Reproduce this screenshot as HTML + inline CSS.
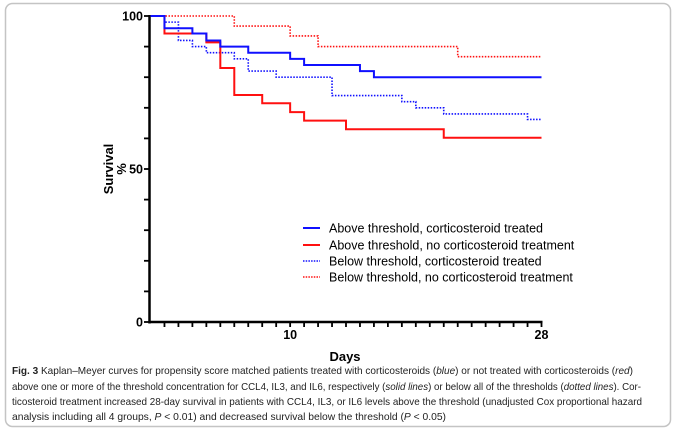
<!DOCTYPE html>
<html><head><meta charset="utf-8"><style>
html,body{margin:0;padding:0;background:#fff;}
svg{display:block;font-family:"Liberation Sans",Arial,sans-serif;}
</style></head><body>
<svg width="675" height="430" viewBox="0 0 675 430">
<rect x="5.5" y="3.5" width="665" height="423" rx="7" fill="#fff" stroke="#c4c4c4" stroke-width="1.5"/>
<g id="axes"></g>
<g id="series"></g>
<g id="legend"></g>
<text transform="translate(113,169) rotate(-90)" text-anchor="middle" font-weight="bold" font-size="13">Survival</text>
<text transform="translate(126,169) rotate(-90)" text-anchor="middle" font-weight="bold" font-size="13">%</text>
<text x="345" y="361" text-anchor="middle" font-weight="bold" font-size="13">Days</text>
<g font-size="10.2" fill="#222">
<text x="12" y="374" textLength="621" lengthAdjust="spacingAndGlyphs"><tspan font-weight="bold">Fig. 3</tspan>  Kaplan–Meyer curves for propensity score matched patients treated with corticosteroids (<tspan font-style="italic">blue</tspan>) or not treated with corticosteroids (<tspan font-style="italic">red</tspan>)</text>
<text x="12" y="390" textLength="629" lengthAdjust="spacingAndGlyphs">above one or more of the threshold concentration for CCL4, IL3, and IL6, respectively (<tspan font-style="italic">solid lines</tspan>) or below all of the thresholds (<tspan font-style="italic">dotted lines</tspan>). Cor-</text>
<text x="12" y="405" textLength="630" lengthAdjust="spacingAndGlyphs">ticosteroid treatment increased 28-day survival in patients with CCL4, IL3, or IL6 levels above the threshold (unadjusted Cox proportional hazard</text>
<text x="12" y="420" textLength="434" lengthAdjust="spacingAndGlyphs">analysis including all 4 groups, <tspan font-style="italic">P</tspan> &lt; 0.01) and decreased survival below the threshold (<tspan font-style="italic">P</tspan> &lt; 0.05)</text>
</g>
</svg>
<script>
const NS="http://www.w3.org/2000/svg";
const yTicks=[0,50,100];
const xTicks=[10,28];
const seriesNames=["Above threshold, corticosteroid treated","Above threshold, no corticosteroid treatment","Below threshold, corticosteroid treated","Below threshold, no corticosteroid treatment"];
const aboveTreatedDays=[0,1,3,4,5,7,10,11,15,16,28];
const aboveTreatedSurv=[100,96,94.3,92,90,88,86,84,82,80,80];
const aboveUntreatedDays=[0,1,4,5,6,8,10,11,14,21,28];
const aboveUntreatedSurv=[100,94.3,91.4,83,74.2,71.5,68.6,65.8,63,60.2,60.2];
const belowTreatedDays=[0,1,2,3,4,6,7,9,13,18,19,21,27,28];
const belowTreatedSurv=[100,98,92,90,88,86,82,80,74,72,70,68,66.2,66.2];
const belowUntreatedDays=[0,6,10,12,22,28];
const belowUntreatedSurv=[100,96.7,93.5,90,86.7,86.7];

const X0=150.5,X1=541.5,Y0=322,Y1=16;
const xs=d=>X0+(X1-X0)*d/28;
const ys=v=>Y0-(Y0-Y1)*v/100;
function mk(tag,attrs,parent){const e=document.createElementNS(NS,tag);for(const k in attrs)e.setAttribute(k,attrs[k]);parent.appendChild(e);return e;}
const ax=document.getElementById('axes');
let e=mk('line',{x1:149.5,y1:ys(100)-1,x2:149.5,y2:Y0+1.5,stroke:'#000','stroke-width':2.5},ax);


e=mk('line',{x1:148.5,y1:Y0,x2:X1+1,y2:Y0,stroke:'#000','stroke-width':2.5},ax);


for(let v=0;v<=100;v+=10){
  e=mk('line',{x1:144,y1:ys(v),x2:149,y2:ys(v),stroke:'#000','stroke-width':1.8},ax);
  
  
}
for(let d=1;d<=28;d++){
  e=mk('line',{x1:xs(d),y1:Y0,x2:xs(d),y2:Y0+5,stroke:'#000','stroke-width':1.8},ax);
  
  
}
yTicks.forEach(v=>{
  const t=mk('text',{x:143,y:ys(v)+4.5,'text-anchor':'end','font-size':12.5,'font-weight':'bold'},ax);
  t.textContent=v;
  
  
});
xTicks.forEach(v=>{
  const t=mk('text',{x:xs(v),y:339,'text-anchor':'middle','font-size':12.5,'font-weight':'bold'},ax);
  t.textContent=v;
  
  
});
const sg=document.getElementById('series');
function step(days,surv){let p='M'+xs(days[0])+' '+ys(surv[0]);for(let i=1;i<days.length;i++){p+=' H'+xs(days[i])+' V'+ys(surv[i]);}return p;}
const styles=[{c:'#1010ff',dash:null,w:2},{c:'#ff1010',dash:null,w:2},{c:'#1010ff',dash:'1.5 1.5',w:1.6},{c:'#ff1010',dash:'1.5 1.5',w:1.6}];
const data=[[belowUntreatedDays,belowUntreatedSurv,3],[belowTreatedDays,belowTreatedSurv,2],[aboveUntreatedDays,aboveUntreatedSurv,1],[aboveTreatedDays,aboveTreatedSurv,0]];
const snames=['curve-above-treated','curve-above-untreated','curve-below-treated','curve-below-untreated'];
data.forEach(([d,s,i])=>{
  const st=styles[i];
  const a={d:step(d,s),fill:'none',stroke:st.c,'stroke-width':st.w};
  if(st.dash)a['stroke-dasharray']=st.dash;
  const p=mk('path',a,sg);
  
  
});
const lg=document.getElementById('legend');
const ly=[228,245,261,277];
seriesNames.forEach((n,i)=>{
  const st=styles[i];
  const a={x1:303,y1:ly[i],x2:320,y2:ly[i],stroke:st.c,'stroke-width':st.dash?1.4:2};
  if(st.dash)a['stroke-dasharray']='1.5 1.2';
  const l=mk('line',a,lg);
  
  
  const t=mk('text',{x:329,y:ly[i]+4.5,'font-size':12.5},lg);
  t.textContent=n;
  
  
});
</script>
</body></html>
